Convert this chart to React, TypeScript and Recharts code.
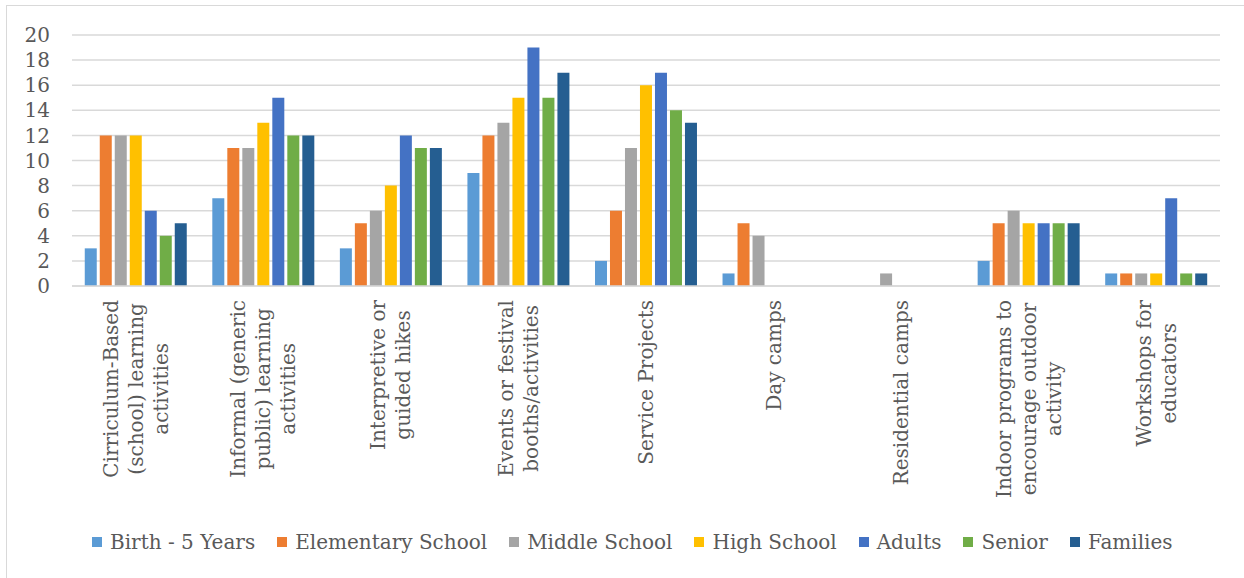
import { BarChart, Bar, XAxis, YAxis, CartesianGrid } from 'recharts';

// Program types (x axis), Excel wraps these onto several lines
const categories = [
  'Cirriculum-Based\n(school) learning\nactivities',
  'Informal (generic\npublic) learning\nactivities',
  'Interpretive or\nguided hikes',
  'Events or festival\nbooths/activities',
  'Service Projects',
  'Day camps',
  'Residential camps',
  'Indoor programs to\nencourage outdoor\nactivity',
  'Workshops for\neducators',
];

const birth = [3, 7, 3, 9, 2, 1, 0, 2, 1];
const elementary = [12, 11, 5, 12, 6, 5, 0, 5, 1];
const middle = [12, 11, 6, 13, 11, 4, 1, 6, 1];
const high = [12, 13, 8, 15, 16, 0, 0, 5, 1];
const adults = [6, 15, 12, 19, 17, 0, 0, 5, 7];
const senior = [4, 12, 11, 15, 14, 0, 0, 5, 1];
const families = [5, 12, 11, 17, 13, 0, 0, 5, 1];

const yTicks = [0, 2, 4, 6, 8, 10, 12, 14, 16, 18, 20];

const series = [
  { key: 'birth', name: 'Birth - 5 Years', color: '#5B9BD5', values: birth },
  { key: 'elementary', name: 'Elementary School', color: '#ED7D31', values: elementary },
  { key: 'middle', name: 'Middle School', color: '#A5A5A5', values: middle },
  { key: 'high', name: 'High School', color: '#FFC000', values: high },
  { key: 'adults', name: 'Adults', color: '#4472C4', values: adults },
  { key: 'senior', name: 'Senior', color: '#70AD47', values: senior },
  { key: 'families', name: 'Families', color: '#255E91', values: families },
];

const data = categories.map((cat, i) => {
  const row: Record<string, string | number> = { cat };
  series.forEach((s) => { row[s.key] = s.values[i]; });
  return row;
});

const FONT = '"DejaVu Serif", serif';
const TEXT = '#595959';
const GRID = '#d9d9d9';

let ctx: CanvasRenderingContext2D | null = null;
function textWidth(s: string) {
  if (!ctx) ctx = document.createElement('canvas').getContext('2d');
  if (!ctx) return s.length * 10;
  ctx.font = '20px "DejaVu Serif"';
  return ctx.measureText(s).width;
}

// rotated, centred multi-line category label hanging below the axis
function CategoryTick(props: any) {
  const { x, y, payload } = props;
  const lines: string[] = String(payload.value).split('\n');
  const maxW = Math.max(...lines.map(textWidth));
  const lineH = 25;
  return (
    <g transform={`translate(${x},${y + 14}) rotate(-90)`}>
      {lines.map((line, i) => (
        <text
          key={i}
          x={-maxW / 2}
          y={(i - (lines.length - 1) / 2) * lineH}
          textAnchor="middle"
          dominantBaseline="central"
          fontFamily={FONT}
          fontSize={20}
          fill={TEXT}
        >
          {line}
        </text>
      ))}
    </g>
  );
}

export default function App() {
  return (
    <div style={{ position: 'absolute', left: 0, top: 0, width: 1244, height: 578, background: '#fff', overflow: 'hidden' }}>
      {/* chart frame, only its top and left edges are in view */}
      <div style={{ position: 'absolute', left: 6, top: 5, width: 1260, height: 600, border: `1.5px solid ${GRID}` }} />

      <div style={{ position: 'absolute', left: 0, top: 0 }}>
        <BarChart
          width={1244}
          height={578}
          data={data}
          margin={{ top: 35, right: 24, left: 0, bottom: 0 }}
          barCategoryGap="10%"
          barGap={3}
        >
          <CartesianGrid vertical={false} stroke={GRID} strokeWidth={1.5} />
          <XAxis
            dataKey="cat"
            height={292}
            interval={0}
            axisLine={{ stroke: GRID, strokeWidth: 1.5 }}
            tickLine={false}
            tickSize={0}
            tickMargin={0}
            tick={<CategoryTick />}
          />
          <YAxis
            width={72}
            domain={[0, 20]}
            ticks={yTicks}
            interval={0}
            axisLine={false}
            tickLine={false}
            tickMargin={16}
            tick={{ fontFamily: FONT, fontSize: 20, fill: TEXT }}
          />
          {series.map((s) => (
            <Bar key={s.key} dataKey={s.key} name={s.name} fill={s.color} isAnimationActive={false} />
          ))}
        </BarChart>
      </div>

      {/* legend */}
      <div
        style={{
          position: 'absolute', left: 92, top: 530, display: 'flex', alignItems: 'center',
          gap: 22, fontFamily: FONT, fontSize: 20, color: TEXT, whiteSpace: 'nowrap',
        }}
      >
        {series.map((s) => (
          <div key={s.key} style={{ display: 'flex', alignItems: 'center', gap: 8 }}>
            <span style={{ width: 10, height: 10, background: s.color, display: 'inline-block' }} />
            <span>{s.name}</span>
          </div>
        ))}
      </div>
    </div>
  );
}
